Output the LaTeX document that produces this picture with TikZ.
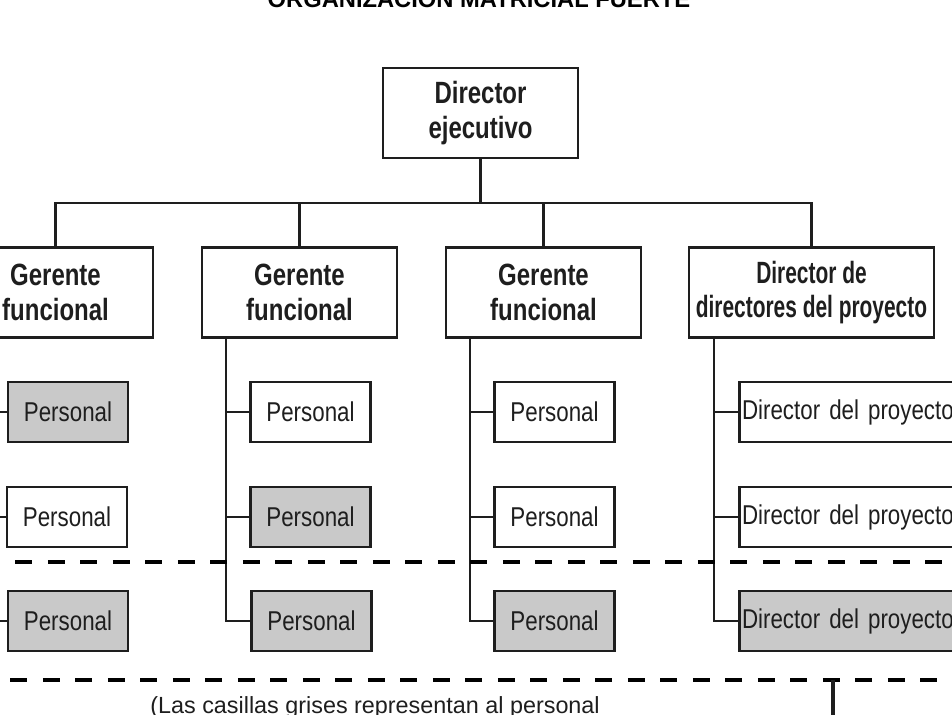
\documentclass[tikz,border=0pt]{standalone}
\usepackage{fontspec}
\setmainfont{Liberation Sans}
\newfontfamily\hdfont[FakeStretch=0.78]{Liberation Sans}
\newfontfamily\hdnarrow[FakeStretch=0.68]{Liberation Sans}
\newfontfamily\bxfont[FakeStretch=0.82]{Liberation Sans}
\definecolor{casilla}{HTML}{C9C9C9}
\definecolor{tinta}{HTML}{1E1E1E}

\begin{document}
\begin{tikzpicture}[x=0.02cm,y=-0.02cm,
  head/.style={draw=tinta,line width=1.6pt,minimum width=3.9cm,minimum height=1.8cm,
    align=center,text=tinta,font=\hdfont\bfseries\fontsize{17.5}{19.5}\selectfont},
  pers/.style={draw=tinta,line width=1.6pt,minimum width=2.4cm,minimum height=1.2cm,
    text=tinta,font=\bxfont\fontsize{15.5}{18}\selectfont},
  link/.style={draw=tinta,line width=1.4pt},
  sep/.style={draw=black,line width=2.8pt,dash pattern=on 0.34cm off 0.31cm}]
  \useasboundingbox (0,0) rectangle (952,714);
  \clip (0,0) rectangle (952,714);
  \node[anchor=base,text=black,font=\bfseries\fontsize{13.5}{16}\selectfont] (titulo) at (479,7)
      {ORGANIZACIÓN MATRICIAL FUERTE};
  \node[head] (dir) at (480.5,113) {Director\\ejecutivo};
  \node[head] (g1) at (55.5,292.5) {Gerente\\funcional};
  \node[head] (g2) at (299.5,292.5) {Gerente\\funcional};
  \node[head] (g3) at (543.5,292.5) {Gerente\\funcional};
  \node[head,minimum width=4.9cm,font=\hdnarrow\bfseries\fontsize{17.5}{19.5}\selectfont] (g4)
      at (811.5,292.5) {Director de\\directores del proyecto};
  \coordinate (bus) at (480.5,203);
  \draw[link] (dir) -- (bus);
  \draw[link] (g1.north) |- (bus) -| (g4.north);
  \foreach \g in {g2,g3}
    \draw[link] (\g.north) -- (\g.north |- bus);
  \foreach \n/\x/\y/\f in {p11/68/412/casilla,p12/67/517/white,p13/68/621/casilla,
                           p21/310.5/412/white,p22/310.5/517/casilla,p23/311.5/621/casilla,
                           p31/554.5/412/white,p32/554.5/517/white,p33/554.5/621/casilla}
    \node[pers,fill=\f] (\n) at (\x,\y) {Personal};
  \foreach \n/\y/\f in {p41/412/white,p42/517/white,p43/621/casilla}
    \node[pers,fill=\f,anchor=west,text width=4.9cm,align=left,inner xsep=1.5pt] (\n)
        at (738,\y) {Director del proyecto};
  \coordinate (s1) at (-18,337);
  \coordinate (s2) at (226,337);
  \coordinate (s3) at (470,337);
  \coordinate (s4) at (714,337);
  \foreach \c in {1,2,3,4} {
    \draw[link] (s\c) |- (p\c3.west);
    \draw[link] (p\c1.west) -- (p\c1.west -| s\c);
    \draw[link] (p\c2.west) -- (p\c2.west -| s\c);
  }
  \coordinate (l1a) at (-17,562);
  \coordinate (l1b) at (960,562);
  \coordinate (l2a) at (-22,680);
  \coordinate (l2b) at (960,680);
  \draw[sep] (l1a) -- (l1b);
  \draw[sep] (l2a) -- (l2b);
  \coordinate (t1) at (833,680);
  \coordinate (t2) at (833,720);
  \draw[link,line width=1.8pt] (t1) -- (t2);
  \node[anchor=base west,inner sep=0pt,text=tinta,font=\fontsize{13.3}{16}\selectfont] (nota)
      at (150,713) {(Las casillas grises representan al personal};
\end{tikzpicture}
\end{document}
